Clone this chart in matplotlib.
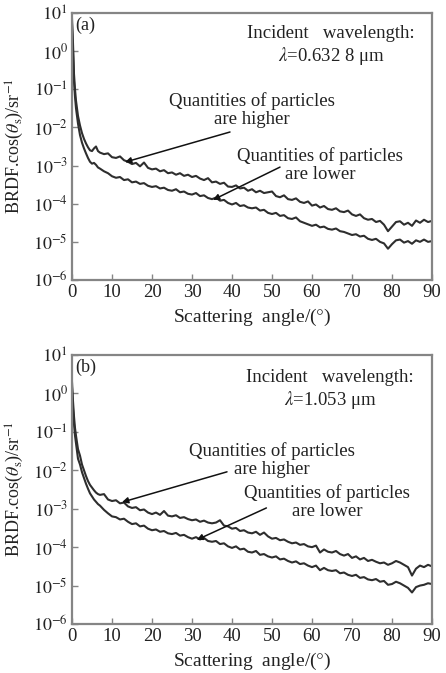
import matplotlib
matplotlib.use("Agg")
import matplotlib.pyplot as plt
import numpy as np

plt.rcParams['font.family'] = ['Liberation Serif', 'DejaVu Serif']
plt.rcParams['mathtext.fontset'] = 'stix'

# ---------------- data (log10 of BRDF.cos values) ----------------
angle_head = [0, 0.25, 0.5, 0.75, 1, 1.5, 2, 2.5, 3, 3.5, 4, 4.5, 5, 5.5, 6, 6.5, 7]
angle_tail = list(range(8, 91))
angles = angle_head + angle_tail

upper_a_log = [0.85, 0.2, -0.6, -1.0, -1.3, -1.7, -1.95, -2.15, -2.3, -2.42, -2.52, -2.6, -2.62, -2.55, -2.5, -2.62, -2.66,
    -2.70, -2.68, -2.78, -2.80, -2.76, -2.86, -2.90, -2.96, -2.93, -3.02, -2.92, -3.06, -3.10, -3.08, -3.15, -3.12,
    -3.20, -3.18, -3.24, -3.20, -3.27, -3.24, -3.30, -3.27, -3.34, -3.38, -3.33, -3.44, -3.42, -3.48, -3.45, -3.55,
    -3.56, -3.52, -3.60, -3.58, -3.66, -3.62, -3.70, -3.66, -3.72, -3.70, -3.68, -3.80, -3.83, -3.78, -3.88, -3.90,
    -3.86, -3.95, -3.98, -3.94, -4.05, -4.02, -4.10, -4.06, -4.14, -4.16, -4.12, -4.20, -4.22, -4.18, -4.28, -4.32,
    -4.28, -4.38, -4.42, -4.40, -4.48, -4.45, -4.55, -4.72, -4.60, -4.48, -4.46, -4.55, -4.50, -4.58, -4.44, -4.50,
    -4.42, -4.48, -4.45]

lower_a_log = [0.7, 0.0, -0.8, -1.2, -1.5, -1.9, -2.2, -2.4, -2.55, -2.68, -2.8, -2.9, -2.95, -2.93, -2.98, -3.05, -3.08,
    -3.15, -3.20, -3.28, -3.32, -3.30, -3.38, -3.36, -3.44, -3.42, -3.48, -3.46, -3.53, -3.56, -3.54, -3.60, -3.58,
    -3.64, -3.66, -3.62, -3.70, -3.68, -3.74, -3.76, -3.72, -3.80, -3.78, -3.85, -3.88, -3.84, -3.92, -3.90, -3.98,
    -4.02, -3.98, -4.06, -4.04, -4.10, -4.12, -4.10, -4.18, -4.16, -4.24, -4.27, -4.24, -4.32, -4.30, -4.38, -4.40,
    -4.36, -4.46, -4.50, -4.54, -4.58, -4.55, -4.62, -4.60, -4.66, -4.68, -4.65, -4.72, -4.74, -4.78, -4.82, -4.80,
    -4.86, -4.84, -4.92, -4.95, -4.92, -5.00, -5.04, -5.18, -5.06, -4.96, -4.94, -5.02, -4.98, -5.05, -4.96, -5.00,
    -4.94, -5.00, -4.98]

upper_b_log = [0.3, -0.2, -0.6, -0.9, -1.1, -1.45, -1.62, -1.85, -2.0, -2.15, -2.28, -2.38, -2.45, -2.52, -2.58, -2.62, -2.64,
    -2.62, -2.76, -2.80, -2.78, -2.86, -2.84, -2.94, -2.98, -2.96, -3.04, -3.02, -3.10, -3.14, -3.10, -3.16, -3.06,
    -3.18, -3.20, -3.17, -3.24, -3.22, -3.27, -3.30, -3.28, -3.34, -3.31, -3.36, -3.38, -3.36, -3.30, -3.44, -3.46,
    -3.52, -3.50, -3.58, -3.56, -3.62, -3.64, -3.60, -3.68, -3.62, -3.72, -3.78, -3.76, -3.82, -3.80, -3.86, -3.90,
    -3.88, -3.94, -3.92, -3.98, -4.00, -3.96, -4.14, -4.06, -4.12, -4.14, -4.10, -4.18, -4.22, -4.18, -4.28, -4.24,
    -4.32, -4.28, -4.36, -4.33, -4.38, -4.42, -4.40, -4.46, -4.42, -4.36, -4.40, -4.46, -4.52, -4.74, -4.56, -4.48,
    -4.52, -4.46, -4.50]

lower_b_log = [0.15, -0.4, -0.8, -1.1, -1.3, -1.7, -1.85, -2.05, -2.2, -2.35, -2.48, -2.6, -2.68, -2.76, -2.82, -2.88, -2.92,
    -3.03, -3.12, -3.20, -3.22, -3.28, -3.26, -3.34, -3.40, -3.38, -3.46, -3.44, -3.52, -3.56, -3.54, -3.60, -3.58,
    -3.64, -3.66, -3.63, -3.70, -3.68, -3.74, -3.78, -3.74, -3.80, -3.76, -3.84, -3.86, -3.84, -3.92, -3.90, -3.98,
    -4.02, -3.98, -4.06, -4.04, -4.12, -4.14, -4.10, -4.20, -4.18, -4.24, -4.27, -4.24, -4.32, -4.30, -4.36, -4.40,
    -4.37, -4.44, -4.42, -4.48, -4.52, -4.48, -4.60, -4.54, -4.60, -4.62, -4.60, -4.68, -4.66, -4.72, -4.75, -4.72,
    -4.80, -4.78, -4.84, -4.86, -4.83, -4.90, -4.88, -4.98, -4.96, -4.90, -4.94, -5.00, -5.06, -5.18, -5.04, -5.00,
    -4.98, -4.94, -4.96]

x_ticks = [0, 10, 20, 30, 40, 50, 60, 70, 80, 90]
y_exponents = [-6, -5, -4, -3, -2, -1, 0, 1]

panels = [
    dict(tag="(a)", upper=upper_a_log, lower=lower_a_log, wl=r"$\lambda$=0.632 8 μm",
         inc_xy=(64.75, 0.14), hi_txt=(45.0, -1.54), hi_tail=(39.5, -2.12), hi_tip=(13.25, -2.91),
         lo_txt=(62.0, -2.99), lo_tail=(52.0, -3.04), lo_tip=(35.25, -3.90)),
    dict(tag="(b)", upper=upper_b_log, lower=lower_b_log, wl=r"$\lambda$=1.053 μm",
         inc_xy=(64.5, 0.09), hi_txt=(50.0, -1.73), hi_tail=(38.75, -2.04), hi_tip=(12.5, -2.83),
         lo_txt=(63.75, -2.83), lo_tail=(48.6, -2.98), lo_tip=(31.2, -3.81)),
]

W, H = 446, 673
fig = plt.figure(figsize=(W / 100, H / 100), dpi=100)
rects = [[72 / W, 1 - 280 / H, 360 / W, 267 / H],
         [72 / W, 1 - 624 / H, 360 / W, 269 / H]]

spine_col = '#858585'
line_col = '#2e2e2e'
txt_col = '#222222'

for rect, p in zip(rects, panels):
    ax = fig.add_axes(rect)
    ax.set_yscale('log')
    ax.plot(angles, np.power(10.0, p['upper']), color=line_col, lw=1.5)
    ax.plot(angles, np.power(10.0, p['lower']), color=line_col, lw=1.5)
    ax.set_xlim(0, 90)
    ax.set_ylim(1e-6, 1e1)
    ax.set_xticks(x_ticks)
    ax.set_xticklabels([str(t) for t in x_ticks], fontsize=13.5, color=txt_col)
    ax.set_yticks([10.0 ** e for e in y_exponents])
    ax.set_yticklabels([r"$10^{%d}$" % e for e in y_exponents], fontsize=13, color=txt_col)
    ax.yaxis.set_minor_locator(matplotlib.ticker.NullLocator())
    ax.tick_params(direction='in', length=4, width=1, color=spine_col, pad=3)
    for s in ax.spines.values():
        s.set_color(spine_col)
        s.set_linewidth(1.6)
    ax.set_xlabel(r"Scattering  angle/($\degree$)", fontsize=14, color=txt_col, labelpad=4)
    ax.set_ylabel(r"BRDF.cos($\theta_{\rm s}$)/sr$^{-1}$", fontsize=13, color=txt_col)
    ax.yaxis.set_label_coords(-0.128, 0.5)
    ax.text(0.008, 0.955, p['tag'], transform=ax.transAxes, fontsize=13, color=txt_col,
            ha='left', va='center')
    ix, iy = p['inc_xy']
    ax.text(ix, 10 ** iy, "Incident   wavelength:\n" + p['wl'], fontsize=13.5, color=txt_col,
            ha='center', va='center', linespacing=1.15)
    hx, hy = p['hi_txt']
    ax.text(hx, 10 ** hy, "Quantities of particles\nare higher", fontsize=13.5, color=txt_col,
            ha='center', va='center', linespacing=1.05)
    lx, ly = p['lo_txt']
    ax.text(lx, 10 ** ly, "Quantities of particles\nare lower", fontsize=13.5, color=txt_col,
            ha='center', va='center', linespacing=1.05)
    for tail, tip in [(p['hi_tail'], p['hi_tip']), (p['lo_tail'], p['lo_tip'])]:
        ax.annotate("", xy=(tip[0], 10 ** tip[1]), xytext=(tail[0], 10 ** tail[1]),
                    arrowprops=dict(arrowstyle='-|>', color='#111111', lw=1.1,
                                    mutation_scale=9, shrinkA=0, shrinkB=0))

fig.savefig("out.png", dpi=100)
